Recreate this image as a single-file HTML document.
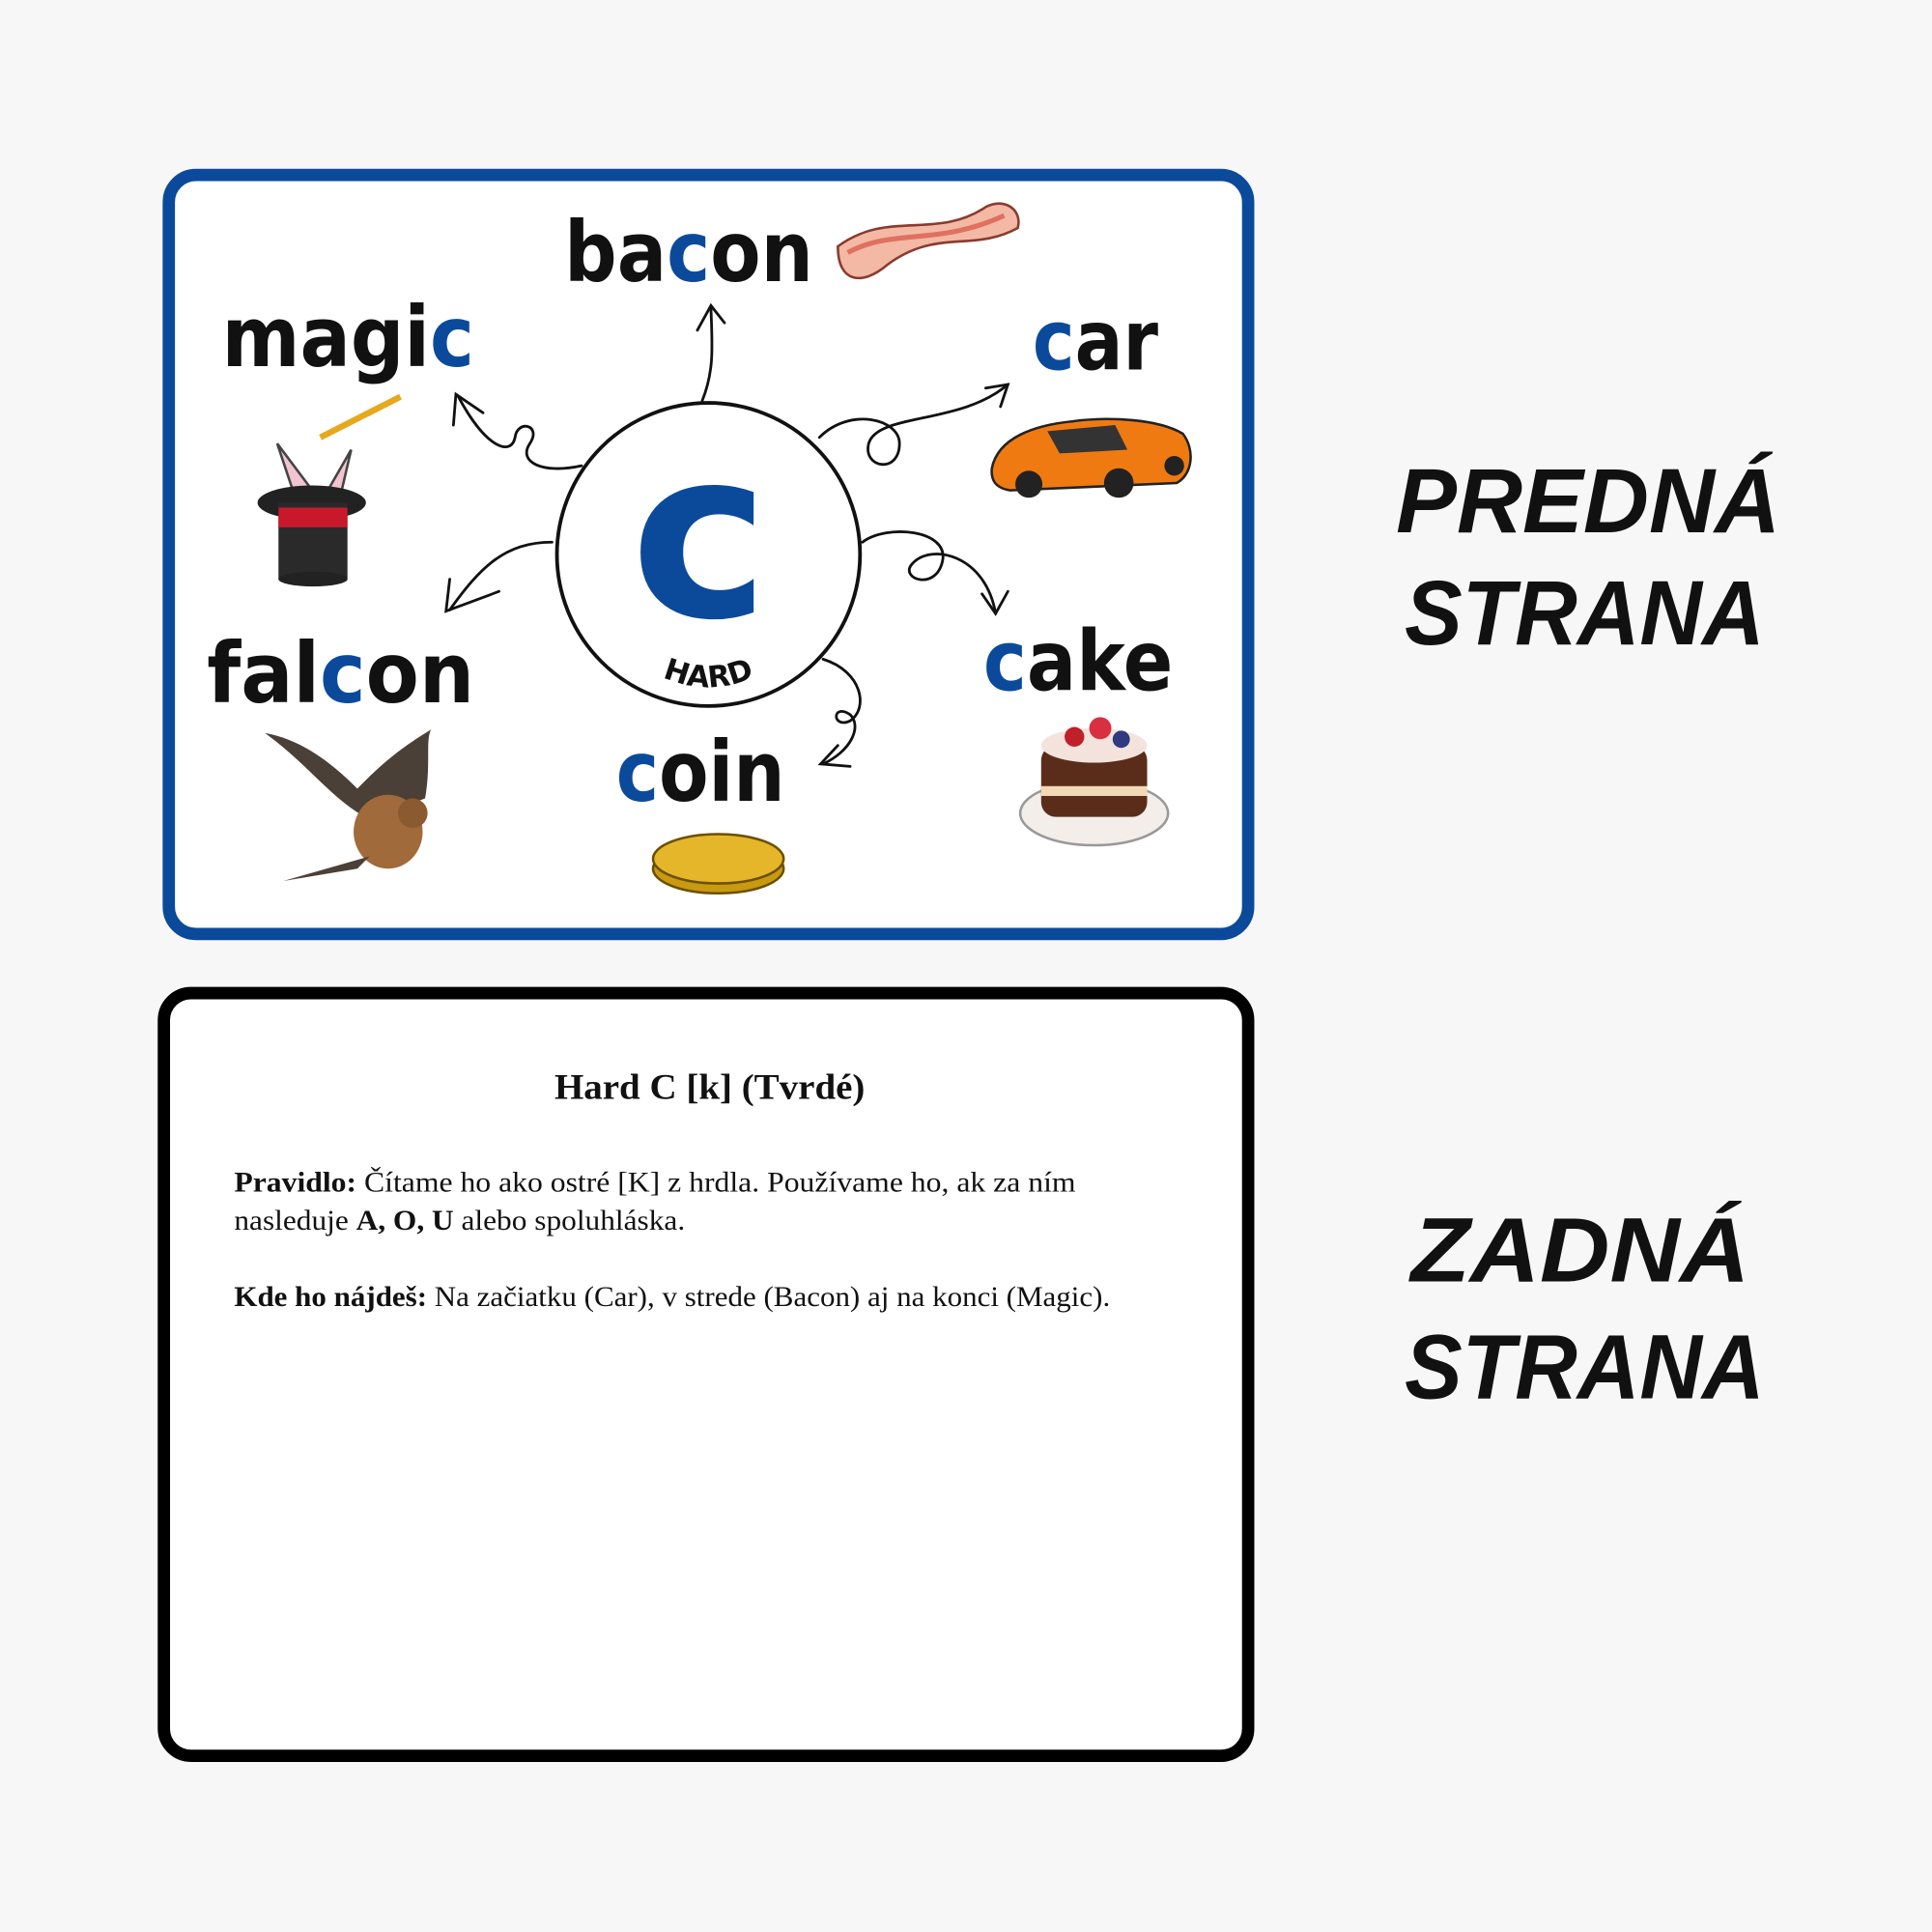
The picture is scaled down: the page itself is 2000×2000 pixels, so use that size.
<!DOCTYPE html>
<html><head><meta charset="utf-8"><style>
html,body{margin:0;padding:0;background:#f7f7f7;}
svg{display:block;}
</style></head><body>
<svg width="2000" height="2000" viewBox="0 0 1568 1568" xmlns="http://www.w3.org/2000/svg">
<rect width="1568" height="1568" fill="#f7f7f7"/>
<rect x="137" y="142" width="876" height="616" rx="22" fill="#fff" stroke="#0b4a9b" stroke-width="10"/>
<rect x="133" y="806" width="880" height="619" rx="22" fill="#fff" stroke="#000" stroke-width="10"/>

<g font-family="DejaVu Sans, Liberation Sans, sans-serif" font-weight="bold" font-size="68" fill="#111" lengthAdjust="spacingAndGlyphs">
<text x="458" y="228" textLength="202" lengthAdjust="spacingAndGlyphs">ba<tspan fill="#0b4a9b">c</tspan>on</text>
<text x="180" y="297" textLength="205" lengthAdjust="spacingAndGlyphs">magi<tspan fill="#0b4a9b">c</tspan></text>
<text x="838" y="300" textLength="102" lengthAdjust="spacingAndGlyphs"><tspan fill="#0b4a9b">c</tspan>ar</text>
<text x="168" y="570" textLength="217" lengthAdjust="spacingAndGlyphs">fal<tspan fill="#0b4a9b">c</tspan>on</text>
<text x="798" y="560" textLength="154" lengthAdjust="spacingAndGlyphs"><tspan fill="#0b4a9b">c</tspan>ake</text>
<text x="500" y="650" textLength="137" lengthAdjust="spacingAndGlyphs"><tspan fill="#0b4a9b">c</tspan>oin</text>
</g>

<circle cx="575" cy="450" r="123" fill="#fff" stroke="#111" stroke-width="3"/>
<text x="568" y="500" text-anchor="middle" font-family="DejaVu Sans, sans-serif" font-weight="bold" font-size="190" fill="#0b4a9b">c</text>
<defs><path id="arc" d="M520,540 Q575,575 630,540"/></defs>
<text font-family="DejaVu Sans, sans-serif" font-weight="bold" font-size="24" fill="#111"><textPath href="#arc" startOffset="50%" text-anchor="middle">HARD</textPath></text>

<g fill="none" stroke="#111" stroke-width="2.2" stroke-linecap="round">
<path d="M570,325 C580,300 578,280 577,250"/><path d="M566,268 L577,248 L588,262"/>
<path d="M472,378 C440,385 420,375 430,360 C440,345 420,340 418,355 C415,370 395,365 372,322"/><path d="M368,345 L370,320 L392,335"/>
<path d="M665,355 C690,330 730,340 730,360 C730,385 700,380 705,360 C712,335 780,345 818,312"/><path d="M800,315 L818,312 L812,330"/>
<path d="M448,440 C410,440 390,460 365,495"/><path d="M365,470 L362,496 L405,480"/>
<path d="M700,440 C720,425 770,430 765,455 C760,480 730,470 740,458 C755,440 800,450 808,498"/><path d="M797,482 L808,498 L818,480"/>
<path d="M668,535 C700,545 705,575 690,585 C675,592 675,570 690,580 C700,590 690,610 668,620"/><path d="M680,605 L666,620 L690,622"/>
</g>

<path d="M680,200 C720,170 760,195 800,168 C815,160 830,170 826,185 C790,205 760,185 720,215 C700,232 680,230 680,200Z" fill="#f3b9a5" stroke="#8a3b2e" stroke-width="2"/>
<path d="M688,205 C725,185 760,200 815,175" stroke="#e07060" stroke-width="4" fill="none"/>
<line x1="260" y1="355" x2="325" y2="322" stroke="#e6a81c" stroke-width="5"/>
<path d="M225,360 L240,405 L255,400 Z" fill="#f2c4d0" stroke="#444" stroke-width="2"/>
<path d="M285,365 L262,405 L275,408 Z" fill="#f2c4d0" stroke="#444" stroke-width="2"/>
<ellipse cx="253" cy="408" rx="44" ry="14" fill="#222"/>
<rect x="226" y="408" width="56" height="62" fill="#2a2a2a"/>
<rect x="226" y="412" width="56" height="16" fill="#c8192b"/>
<ellipse cx="254" cy="470" rx="28" ry="6" fill="#222"/>
<path d="M805,380 C810,355 840,345 870,342 C900,338 940,340 960,352 C970,365 968,385 955,392 L820,398 C808,396 804,390 805,380Z" fill="#f07a12" stroke="#222" stroke-width="2"/>
<path d="M850,350 L905,345 L915,365 L860,368Z" fill="#333"/>
<circle cx="835" cy="393" r="11" fill="#222"/><circle cx="908" cy="392" r="12" fill="#222"/><circle cx="953" cy="378" r="8" fill="#222"/>
<path d="M215,595 C250,620 270,650 300,665 L345,648 C350,620 345,600 350,592 C320,610 305,625 290,640 C270,620 245,600 215,595Z" fill="#4a4038"/>
<ellipse cx="315" cy="675" rx="28" ry="30" fill="#a06a3a"/>
<circle cx="335" cy="660" r="12" fill="#8a5a30"/>
<path d="M300,695 L230,715 L290,705Z" fill="#4a4038"/>
<ellipse cx="888" cy="660" rx="60" ry="26" fill="#f3eeea" stroke="#999" stroke-width="2"/>
<rect x="845" y="605" width="86" height="58" rx="12" fill="#5a2d1a"/>
<rect x="845" y="638" width="86" height="8" fill="#f1d9b5"/>
<ellipse cx="888" cy="605" rx="43" ry="14" fill="#f4e3dd"/>
<circle cx="872" cy="598" r="8" fill="#c0202a"/><circle cx="893" cy="591" r="9" fill="#d83040"/><circle cx="910" cy="600" r="7" fill="#303a80"/>
<ellipse cx="583" cy="705" rx="53" ry="20" fill="#c99a10" stroke="#6b5000" stroke-width="2"/>
<ellipse cx="583" cy="697" rx="53" ry="20" fill="#e6b62a" stroke="#6b5000" stroke-width="2"/>

<text x="450" y="892" textLength="252" lengthAdjust="spacingAndGlyphs" font-family="Liberation Serif, serif" font-weight="bold" font-size="29" fill="#111">Hard C [k] (Tvrdé)</text>
<g font-family="Liberation Serif, serif" font-size="23" fill="#111">
<text x="190" y="967" textLength="683" lengthAdjust="spacingAndGlyphs"><tspan font-weight="bold">Pravidlo:</tspan> Čítame ho ako ostré [K] z hrdla. Používame ho, ak za ním</text>
<text x="190" y="998" textLength="366" lengthAdjust="spacingAndGlyphs">nasleduje <tspan font-weight="bold">A, O, U</tspan> alebo spoluhláska.</text>
<text x="190" y="1060" textLength="711" lengthAdjust="spacingAndGlyphs"><tspan font-weight="bold">Kde ho nájdeš:</tspan> Na začiatku (Car), v strede (Bacon) aj na konci (Magic).</text>
</g>

<g font-family="Liberation Sans, sans-serif" font-weight="bold" font-style="italic" font-size="74" fill="#111">
<text x="1133" y="432" textLength="312" lengthAdjust="spacingAndGlyphs">PREDNÁ</text>
<text x="1140" y="523" textLength="292" lengthAdjust="spacingAndGlyphs">STRANA</text>
<text x="1145" y="1040" textLength="275" lengthAdjust="spacingAndGlyphs">ZADNÁ</text>
<text x="1140" y="1135" textLength="292" lengthAdjust="spacingAndGlyphs">STRANA</text>
</g>
</svg>
</body></html>
